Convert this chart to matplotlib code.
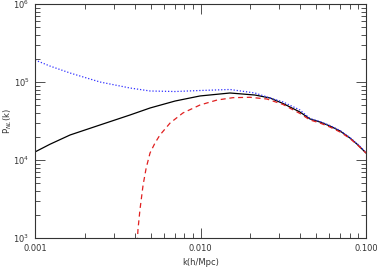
import matplotlib
matplotlib.use("Agg")
import matplotlib.pyplot as plt
from matplotlib.ticker import LogLocator, FixedLocator, FixedFormatter, NullFormatter

# Data
k_grid = [0.001, 0.00123, 0.00163, 0.00247, 0.00375, 0.00496, 0.00702, 0.00993,
          0.01507, 0.02133, 0.0263, 0.03155, 0.0399, 0.0459, 0.0527, 0.0605,
          0.0697, 0.0800, 0.0895, 0.1]
p_total = [12680, 15900, 20940, 28120, 37760, 46450, 57020, 66220, 72280, 68080,
           62370, 52970, 41200, 33570, 30690, 27290, 23550, 19140, 15560, 12300]
p_dotted = [191400, 160300, 130300, 100000, 83750, 76700, 75500, 77800, 80200, 72280,
            62370, 55460, 43750, 34040, 31190, 27680, 23880, 19410, 15810, 12470]
k_dashed = [0.004046, 0.004188, 0.004305, 0.004498, 0.004696, 0.004955, 0.00531,
            0.00569, 0.00655, 0.00783, 0.00993, 0.0126, 0.0157, 0.0199, 0.0252,
            0.03155, 0.0399, 0.0459, 0.0527, 0.0605, 0.0697, 0.0800, 0.0895, 0.1]
p_dashed = [300, 1268, 2285, 4775, 7890, 12300, 16520, 20940, 29790, 40090, 50700,
            58750, 62950, 63680, 60530, 51520, 39450, 32590, 29790, 26490, 22860,
            18880, 15350, 12300]

x_ticks = [0.001, 0.01, 0.1]
x_ticklabels = ["0.001", "0.010", "0.100"]
y_ticks = [1e3, 1e4, 1e5, 1e6]
y_ticklabels = ["10$^3$", "10$^4$", "10$^5$", "10$^6$"]

fig = plt.figure(figsize=(3.79, 2.68), dpi=100)
ax = fig.add_axes([35/379, 1-238/268, (366-35)/379, (238-4)/268])

ax.plot(k_grid, p_total, color="black", lw=0.9)
ax.plot(k_grid, p_dotted, color="#3030ff", lw=0.9, ls=(0, (1, 1.5)))
ax.plot(k_dashed, p_dashed, color="#e02020", lw=0.9, ls=(0, (4, 3)))

ax.set_xscale("log")
ax.set_yscale("log")
ax.set_xlim(0.001, 0.1)
ax.set_ylim(1e3, 1e6)

ax.xaxis.set_major_locator(FixedLocator(x_ticks))
ax.xaxis.set_major_formatter(FixedFormatter(x_ticklabels))
ax.yaxis.set_major_locator(FixedLocator(y_ticks))
ax.yaxis.set_major_formatter(FixedFormatter(y_ticklabels))
ax.xaxis.set_minor_locator(LogLocator(base=10, subs=range(2, 10)))
ax.yaxis.set_minor_locator(LogLocator(base=10, subs=range(2, 10)))
ax.xaxis.set_minor_formatter(NullFormatter())
ax.yaxis.set_minor_formatter(NullFormatter())

ax.tick_params(which="both", direction="in", top=True, right=True, width=0.6,
               labelsize=6, colors="#333333", pad=4)
ax.tick_params(which="major", length=7)
ax.tick_params(which="minor", length=3.5)
for s in ax.spines.values():
    s.set_linewidth(0.8)
    s.set_color("#333333")

ax.set_xlabel("k(h/Mpc)", fontsize=6, color="#333333", labelpad=4)
ax.set_ylabel("P$_{NL}$(k)", fontsize=6, color="#333333")
ax.yaxis.set_label_coords(-0.062, 0.5)

fig.savefig("out.png", dpi=100)
